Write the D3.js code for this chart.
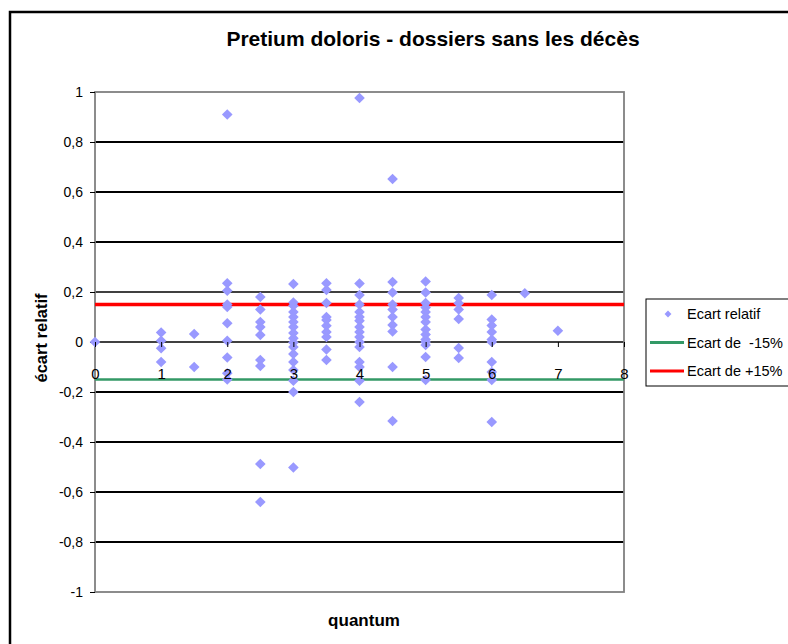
<!DOCTYPE html>
<html>
<head>
<meta charset="utf-8">
<script src="https://cdn.jsdelivr.net/npm/d3@7"></script>
<style>
  html, body { margin: 0; padding: 0; background: #fff; }
  svg { display: block; }
  text { font-family: "Liberation Sans", Arial, sans-serif; }
</style>
</head>
<body>
<div id="chart"></div>
<script>
// Quantum levels and the relative gaps observed at each level
const quantumLevels = [0, 1, 1.5, 2, 2.5, 3, 3.5, 4, 4.5, 5, 5.5, 6, 6.5, 7];
const ecartByLevel = [
  [0],
  [0.038, 0.005, -0.025, -0.08],
  [0.032, -0.1],
  [0.91, 0.235, 0.205, 0.15, 0.14, 0.075, 0.005, -0.062, -0.125, -0.15],
  [0.18, 0.13, 0.08, 0.06, 0.028, -0.072, -0.096, -0.488, -0.64],
  [0.232, 0.158, 0.145, 0.12, 0.1, 0.08, 0.06, 0.036, 0.015, -0.002, -0.02, -0.048, -0.08, -0.112, -0.155, -0.2, -0.502],
  [0.235, 0.208, 0.156, 0.1, 0.088, 0.065, 0.04, 0.02, -0.03, -0.072],
  [0.976, 0.234, 0.188, 0.15, 0.12, 0.1, 0.085, 0.06, 0.04, 0.02, 0.0, -0.02, -0.08, -0.1, -0.155, -0.24],
  [0.652, 0.24, 0.198, 0.15, 0.13, 0.1, 0.068, 0.042, -0.1, -0.316],
  [0.242, 0.198, 0.156, 0.138, 0.12, 0.1, 0.08, 0.05, 0.03, 0.01, 0.0, -0.012, -0.06, -0.152],
  [0.176, 0.155, 0.13, 0.092, -0.024, -0.064],
  [0.188, 0.09, 0.066, 0.04, 0.01, 0.0, -0.08, -0.12, -0.152, -0.32],
  [0.195],
  [0.045]
];
const yTicks = [1, 0.8, 0.6, 0.4, 0.2, 0, -0.2, -0.4, -0.6, -0.8, -1];
const xTicks = [0, 1, 2, 3, 4, 5, 6, 7, 8];
const thresholds = [
  { name: "Ecart de  -15%", value: -0.15, color: "#339966" },
  { name: "Ecart de +15%", value: 0.15, color: "#ff0000" }
];

const points = [];
quantumLevels.forEach((q, i) => ecartByLevel[i].forEach(e => points.push({ q, e })));

const W = 788, H = 644;
const svg = d3.select("#chart").append("svg").attr("width", W).attr("height", H);

// outer chart frame
svg.append("rect").attr("x", 10).attr("y", 12).attr("width", 900).attr("height", 900)
  .attr("fill", "#fff").attr("stroke", "#000").attr("stroke-width", 2.5);

const plot = { left: 95, right: 624, top: 92, bottom: 592 };
const x = d3.scaleLinear().domain([0, 8]).range([plot.left, plot.right]);
const y = d3.scaleLinear().domain([-1, 1]).range([plot.bottom, plot.top]);

// title
svg.append("text").attr("x", 433).attr("y", 46).attr("text-anchor", "middle")
  .attr("font-size", 21).attr("font-weight", "bold").attr("fill", "#000")
  .text("Pretium doloris - dossiers sans les décès");

// horizontal gridlines
svg.append("g").selectAll("line").data(yTicks.filter(t => t > -1 && t < 1)).join("line")
  .attr("x1", plot.left).attr("x2", plot.right)
  .attr("y1", d => Math.round(y(d))).attr("y2", d => Math.round(y(d)))
  .attr("stroke", "#000").attr("stroke-width", d => (d === 0.2 || d === 0) ? 1.3 : 2.2);

// plot area border
svg.append("rect").attr("x", plot.left).attr("y", plot.top)
  .attr("width", plot.right - plot.left).attr("height", plot.bottom - plot.top)
  .attr("fill", "none").attr("stroke", "#808080").attr("stroke-width", 1.8);

// y axis
const yAxis = d3.axisLeft(y).tickValues(yTicks).tickSize(5).tickPadding(7)
  .tickFormat(d => d3.format("~g")(d).replace(".", ",").replace("−", "-"));
const gy = svg.append("g").attr("transform", `translate(${plot.left},0)`).call(yAxis);
gy.select(".domain").remove();
gy.selectAll(".tick line").attr("stroke", "#000");
gy.selectAll(".tick text").attr("font-size", 14).attr("font-family", "Liberation Sans, Arial, sans-serif").attr("fill", "#000");

// threshold lines
svg.append("g").selectAll("line").data(thresholds).join("line")
  .attr("x1", x(0)).attr("x2", x(8))
  .attr("y1", d => y(d.value)).attr("y2", d => y(d.value))
  .attr("stroke", d => d.color).attr("stroke-width", d => d.value > 0 ? 3.5 : 2.5);

// points
const diamond = d3.symbol().type(d3.symbolDiamond2).size(72);
svg.append("g").selectAll("path").data(points).join("path")
  .attr("d", diamond)
  .attr("transform", d => `translate(${x(d.q)},${y(d.e)})`)
  .attr("fill", "#9999ff");

// x axis crossing at 0, labels drawn above the markers
const xAxis = d3.axisBottom(x).tickValues(xTicks).tickSize(5).tickPadding(21)
  .tickFormat(d3.format("d"));
const gx = svg.append("g").attr("transform", `translate(0,${y(0)})`).call(xAxis);
gx.select(".domain").remove();
gx.selectAll(".tick line").attr("stroke", "#000");
gx.selectAll(".tick text").attr("font-size", 15).attr("font-family", "Liberation Sans, Arial, sans-serif").attr("fill", "#000");

// axis titles
svg.append("text").attr("transform", "translate(47,338) rotate(-90)")
  .attr("text-anchor", "middle").attr("font-size", 16.5).attr("font-weight", "bold")
  .text("écart relatif");
svg.append("text").attr("x", 364).attr("y", 626).attr("text-anchor", "middle")
  .attr("font-size", 17).attr("font-weight", "bold").text("quantum");

// legend
const lg = svg.append("g");
lg.append("rect").attr("x", 646).attr("y", 299).attr("width", 160).attr("height", 87)
  .attr("fill", "#fff").attr("stroke", "#000").attr("stroke-width", 1);
const legendItems = [{ name: "Ecart relatif", kind: "point" }]
  .concat(thresholds.map(t => ({ name: t.name, kind: "line", color: t.color })));
legendItems.forEach((d, i) => {
  const cy = 314 + i * 28.5;
  if (d.kind === "point") {
    lg.append("path").attr("d", d3.symbol().type(d3.symbolDiamond2).size(30))
      .attr("transform", `translate(668,${cy})`).attr("fill", "#9999ff");
  } else {
    lg.append("line").attr("x1", 650).attr("x2", 684).attr("y1", cy).attr("y2", cy)
      .attr("stroke", d.color).attr("stroke-width", 3);
  }
  lg.append("text").attr("x", 687).attr("y", cy).attr("dy", "0.35em")
    .attr("font-size", 14.5).attr("fill", "#000").style("white-space", "pre").text(d.name);
});
</script>
</body>
</html>
